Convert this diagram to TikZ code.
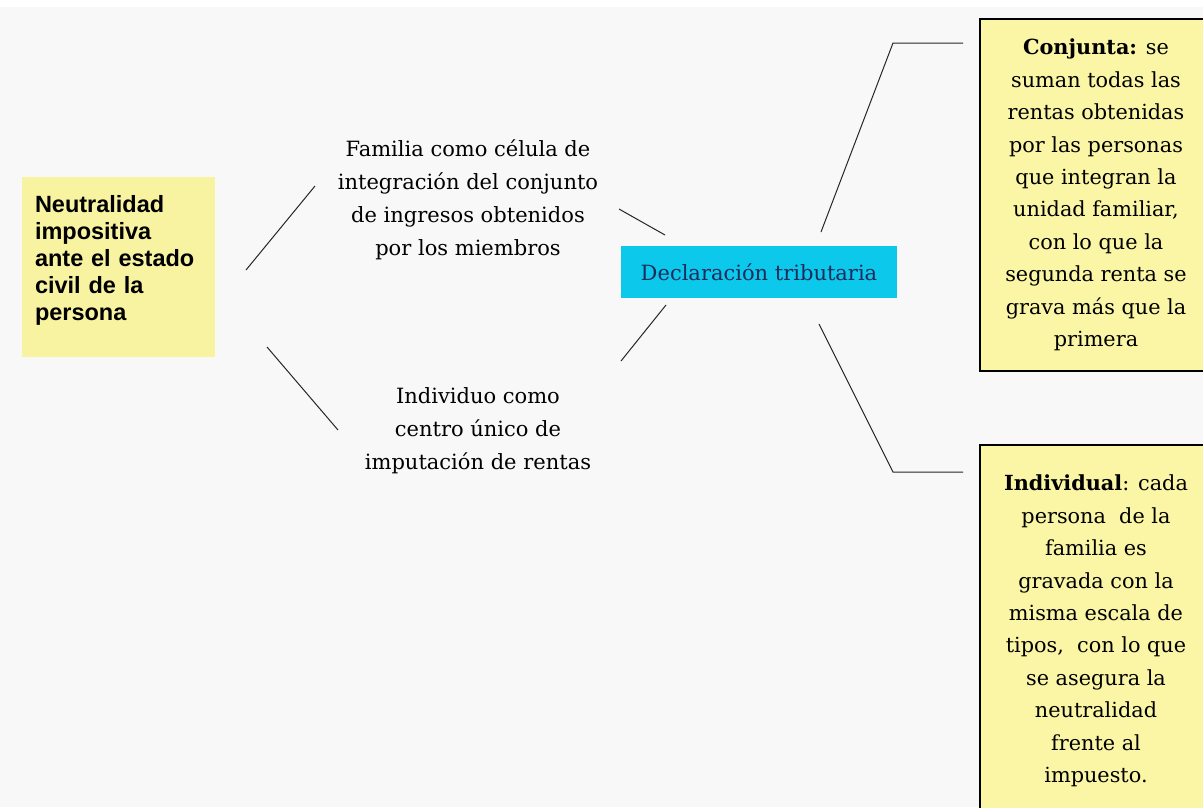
\documentclass[tikz,border=0pt]{standalone}
\usepackage{fontspec}
\setmainfont{DejaVu Serif}
\newfontfamily\arialfont{Liberation Sans}
\definecolor{bgc}{HTML}{F8F8F8}
\definecolor{yel}{HTML}{F8F3A0}
\definecolor{ryel}{HTML}{FBF5A6}
\definecolor{cyanbox}{HTML}{0CC8EA}
\definecolor{navy}{HTML}{1C2A5C}
\begin{document}
\begin{tikzpicture}[x=1pt,y=-1pt,
  link/.style={draw=black!85,line width=1pt},
  leftbox/.style={fill=yel,text width=167pt,inner xsep=13pt,minimum width=193pt,minimum height=180pt,align=left,
    font=\arialfont\bfseries\fontsize{23.5}{27}\selectfont},
  midtext/.style={align=center,font=\fontsize{21}{33}\selectfont},
  decbox/.style={fill=cyanbox,minimum width=276pt,minimum height=52pt,text=navy,font=\fontsize{21}{25}\selectfont},
  rbox/.style={fill=ryel,draw=black,line width=1.2pt,minimum width=232pt,align=center,font=\fontsize{20.8}{32.4}\selectfont}
]
\fill[bgc] (0,0) rectangle (1203,807);
\fill[white] (0,0) rectangle (1203,7);
\useasboundingbox (0,0) rectangle (1203,807);

\node[leftbox] (neu) at (118.5,267) {Neutralidad\\impositiva\\ante el estado\\civil de la\\persona\\[-8pt]\mbox{}};
\node[midtext] (fam) at (468,200) {Familia como célula de\\integración del conjunto\\de ingresos obtenidos\\por los miembros};
\node[midtext] (ind) at (478,431) {Individuo como\\centro único de\\imputación de rentas};
\node[decbox] (dec) at (759,272) {Declaración tributaria};
\node[rbox,minimum height=352pt] (conj) at (1096,195) {\textbf{Conjunta:} se\\suman todas las\\rentas obtenidas\\por las personas\\que integran la\\unidad familiar,\\con lo que la\\segunda renta se\\grava más que la\\primera};
\node[rbox,minimum height=372pt] (indiv) at (1096,631) {\textbf{Individual}: cada\\persona~ de la\\familia es\\gravada con la\\misma escala de\\tipos,~ con lo que\\se asegura la\\neutralidad\\frente al\\impuesto.};

\coordinate (a1) at (246,270); \coordinate (a2) at (315,186);
\coordinate (b1) at (267,347); \coordinate (b2) at (338,430);
\coordinate (c1) at (619,209); \coordinate (c2) at (665,235);
\coordinate (d1) at (666,305); \coordinate (d2) at (621,361);
\coordinate (e1) at (821,232); \coordinate (e2) at (893,43); \coordinate (e3) at (963,43);
\coordinate (f1) at (819,324); \coordinate (f2) at (893,472); \coordinate (f3) at (963,472);

\draw[link] (a1) -- (a2);
\draw[link] (b1) -- (b2);
\draw[link] (c1) -- (c2);
\draw[link] (d1) -- (d2);
\draw[link] (e1) -- (e2) -- (e3);
\draw[link] (f1) -- (f2) -- (f3);
\end{tikzpicture}
\end{document}
